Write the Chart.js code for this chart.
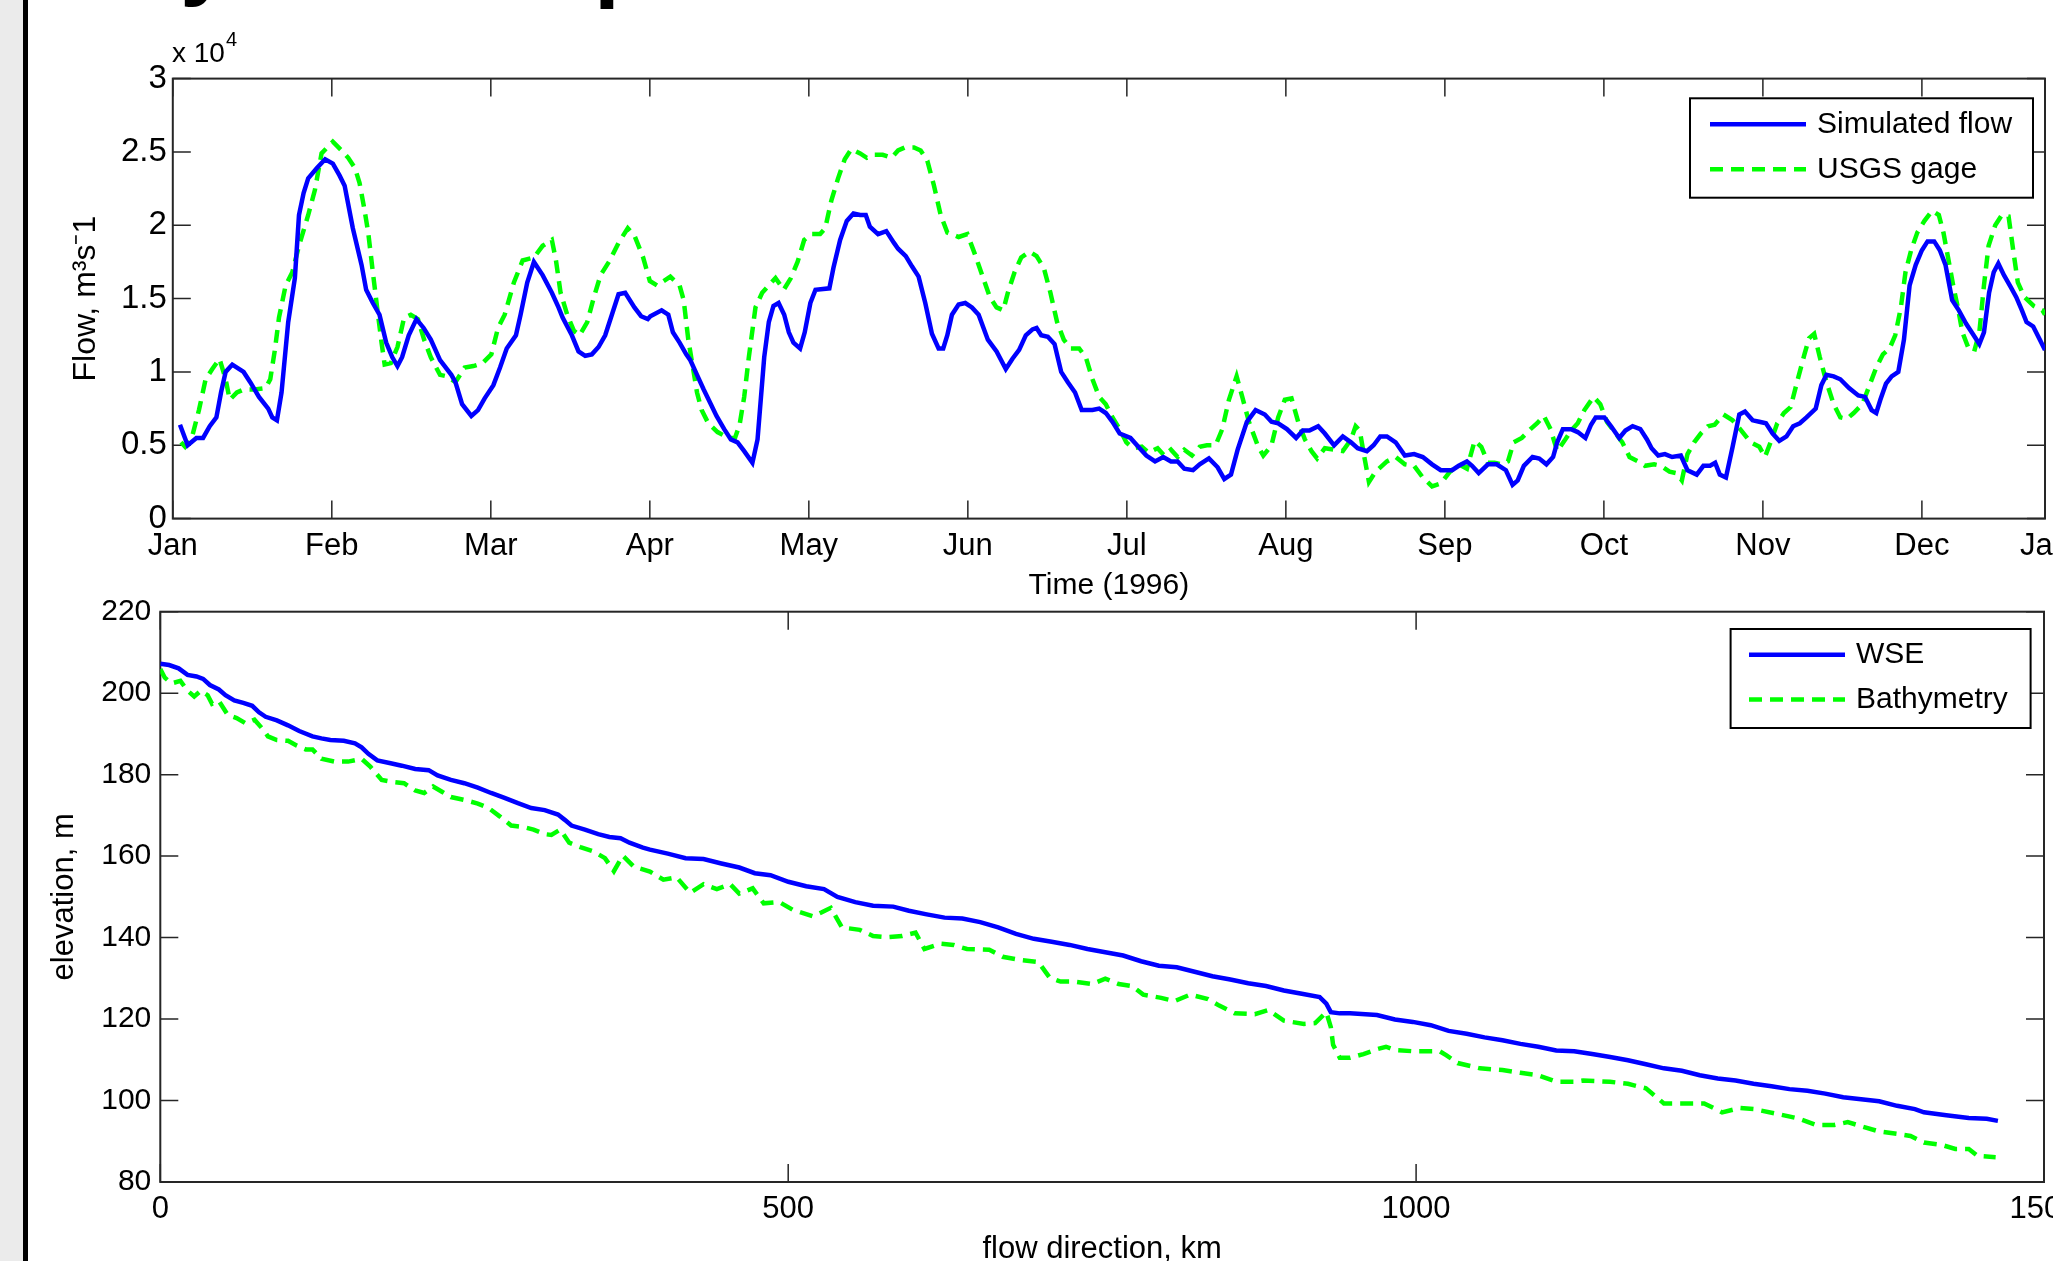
<!DOCTYPE html>
<html>
<head>
<meta charset="utf-8">
<script src="https://cdn.jsdelivr.net/npm/chart.js@4.4.1/dist/chart.umd.min.js"></script>
<style>
body { margin: 0; background: #fff; width: 2053px; height: 1261px; overflow: hidden; position: relative; }
#band { position: absolute; left: 0; top: 0; width: 23px; height: 1261px; background: #ebebeb; }
#bar { position: absolute; left: 23px; top: 0; width: 5px; height: 1261px; background: #000; }
#titleCut { position: absolute; left: 0; top: 0; }
#flowChart { position: absolute; left: 0; top: 0; }
#elevChart { position: absolute; left: 0; top: 560px; }
</style>
</head>
<body>
<div id="band"></div>
<div id="bar"></div>
<svg id="titleCut" width="700" height="14">
  <text x="180" y="-12" font-family="Liberation Sans, Arial, sans-serif" font-weight="bold" font-size="93">y</text>
  <text x="594" y="-10" font-family="Liberation Sans, Arial, sans-serif" font-weight="bold" font-size="93">p</text>
</svg>
<canvas id="flowChart" width="2053" height="610"></canvas>
<canvas id="elevChart" width="2053" height="701"></canvas>
<script>
// ---- top panel: flow, 1996 (day of year) ----
var monthTicks = [0, 31, 62, 93, 124, 155, 186, 217, 248, 279, 310, 341, 365];
var monthLabels = ['Jan', 'Feb', 'Mar', 'Apr', 'May', 'Jun', 'Jul', 'Aug', 'Sep', 'Oct', 'Nov', 'Dec', 'Jan'];

var simDays = [1.4,2.9,4.6,5.9,7.2,8.5,9.4,10.3,11.6,13.8,15.1,16.8,18.6,19.4,20.3,21.2,22.5,23.8,24.6,25.5,
  26.4,28.1,29.7,31.2,32.5,33.5,35.1,36.8,37.7,39.0,40.3,41.6,42.8,43.8,44.7,46.0,47.5,48.9,50.3,52.1,
  54.3,55.1,56.4,58.2,59.5,60.8,62.5,63.8,65.1,66.9,67.8,69.1,70.4,72.1,73.9,75.2,76.0,77.8,79.1,80.4,
  81.7,83.0,84.3,85.6,86.9,88.2,90.0,91.3,92.6,
  93.1,95.3,96.6,97.5,98.8,100.1,100.9,102.2,103.5,104.9,106.0,107.5,108.8,110.1,111.4,113.0,114.0,115.3,116.2,117.1,
  118.1,119.2,120.1,121.0,122.3,123.2,124.3,125.3,128.0,128.8,130.1,131.4,132.7,134.0,135.1,135.9,137.5,139.1,140.6,141.4,
  142.9,144.1,145.4,146.7,148.0,149.3,150.2,151.0,151.9,153.2,154.5,155.8,157.1,158.9,160.6,162.4,163.7,165.0,166.3,167.6,
  168.4,169.3,170.6,171.9,173.2,174.5,175.9,177.2,179.3,180.6,181.9,183.2,184.6,186.7,188.5,189.8,191.5,193.1,194.6,195.9,
  197.2,198.9,200.2,202.0,203.7,205.0,206.3,207.6,209.4,211.1,212.9,214.2,215.5,217.2,219.0,220.3,221.6,223.3,224.6,226.4,
  228.1,
  229.7,231.0,232.8,234.1,235.4,236.7,238.4,240.2,242.0,243.7,245.5,247.2,249.4,250.7,252.3,253.3,254.6,256.4,258.1,259.9,
  261.2,262.2,263.4,265.1,266.4,267.8,269.1,269.9,271.0,272.6,273.9,275.4,276.5,277.4,279.1,280.4,282.0,283.2,284.6,286.1,
  287.4,288.3,289.6,290.9,292.3,294.0,295.3,297.1,298.4,299.7,300.7,301.6,302.8,304.1,305.4,306.5,308.0,309.3,310.6,311.9,
  313.2,314.6,315.9,317.2,318.5,320.3,321.4,322.4,323.8,325.1,326.8,328.6,329.9,331.2,332.1,332.9,334.0,335.1,336.4,337.5,
  338.6,339.8,341.0,342.1,343.4,344.5,345.6,346.9,348.2,349.6,350.9,352.2,353.1,354.1,355.0,355.9,357.0,358.3,359.4,360.5,
  361.4,362.7,364.0,365.0];
var simFlow = [6400,5000,5500,5500,6300,6900,8600,10000,10500,10000,9300,8300,7500,6900,6700,8600,13400,16400,20700,22200,
  23200,23900,24500,24200,23400,22700,19800,17300,15600,14700,13900,12000,11000,10400,11000,12500,13600,13000,12200,10800,
  9800,9300,7800,7000,7400,8200,9100,10300,11600,12500,13900,16100,17500,16600,15400,14400,13700,12500,11400,11100,
  11200,11700,12500,13900,15300,15400,14400,13800,13600,
  13800,14200,13900,12700,12000,11200,10800,9800,8800,7800,7000,6100,5400,5200,4600,3800,5400,11000,13400,14500,
  14700,13900,12700,12000,11600,12700,14700,15600,15700,17100,19000,20300,20800,20700,20700,19900,19400,19600,18800,18400,
  17900,17200,16500,14700,12600,11600,11600,12500,13900,14600,14700,14400,13900,12200,11400,10200,10900,11500,12500,12900,
  13000,12500,12400,11900,10000,9300,8600,7400,7400,7500,7200,6600,5800,5500,4800,4300,3900,4200,3900,3900,
  3400,3300,3700,4100,3500,2700,3000,4700,6600,7400,7100,6600,6500,6100,5500,6000,6000,6300,5800,5000,
  5600,
  5200,4800,4600,5000,5600,5600,5200,4300,4400,4200,3700,3300,3300,3600,3900,3600,3100,3700,3700,3300,
  2300,2600,3600,4200,4100,3700,4200,5200,6100,6100,5900,5500,6400,6900,6900,6300,5500,6000,6300,6100,
  5400,4800,4300,4400,4200,4300,3300,3000,3600,3600,3800,3000,2800,4900,7100,7300,6700,6600,6500,5800,
  5300,5600,6300,6500,6900,7500,9100,9800,9700,9500,8900,8400,8300,7400,7200,8100,9200,9700,10000,12200,
  15900,17300,18300,18900,18900,18300,17300,14900,14200,13300,12600,11900,12700,15400,16800,17400,16600,15800,15100,14200,
  13400,13100,12200,11500];

var gageDays = [1.6,2.4,3.7,5.1,6.4,7.7,9.1,10.3,11.1,12.5,13.8,15.9,18.1,19.0,19.9,20.7,22.0,23.3,24.6,26.4,
  27.7,29.0,31.2,32.9,34.2,35.5,36.4,37.3,38.1,39.0,39.9,40.7,41.3,42.5,43.8,45.1,46.4,47.8,49.0,50.3,
  52.1,53.4,55.1,56.9,58.6,60.4,62.1,63.4,64.7,66.5,68.2,70.4,72.1,73.9,74.7,75.6,76.9,78.2,79.3,80.8,
  82.1,83.4,85.2,86.9,88.7,90.0,91.7,93.0,
  94.4,97.0,98.8,99.6,100.5,101.4,102.2,103.1,104.4,106.2,108.3,109.6,110.5,111.4,112.3,113.6,114.9,116.2,117.5,119.1,
  120.5,121.8,123.1,124.5,126.2,127.2,128.4,129.7,131.0,132.3,134.0,135.3,136.7,138.4,140.1,141.4,142.7,144.5,145.8,147.1,
  148.4,149.7,151.0,153.2,154.9,156.3,157.6,159.3,160.6,161.9,162.8,164.1,165.4,167.0,168.4,169.8,171.1,172.4,173.7,175.0,
  176.7,178.0,179.3,180.6,181.9,183.2,184.6,185.9,187.2,188.9,190.2,192.0,193.3,194.6,195.9,197.2,198.7,200.2,201.6,203.3,
  204.6,205.9,207.4,208.5,209.8,211.6,212.6,214.2,215.5,216.8,218.1,219.4,220.7,222.0,223.1,224.6,226.4,228.1,
  229.7,230.6,231.4,232.3,233.2,234.5,236.7,238.4,240.2,242.0,243.7,245.5,247.2,249.0,250.7,252.3,253.8,255.1,256.4,257.7,
  259.0,260.3,261.4,263.0,264.7,266.0,267.3,268.6,269.9,271.3,272.6,273.9,275.2,277.0,278.3,279.6,281.3,282.6,284.0,285.7,
  287.0,288.8,290.1,291.8,293.1,294.2,295.3,296.6,297.9,299.3,300.6,302.3,304.1,305.8,307.6,309.3,310.4,311.5,312.8,314.1,
  315.4,316.8,318.1,319.0,320.0,321.1,322.4,323.8,325.1,326.4,327.7,329.4,330.8,332.1,333.4,334.7,335.8,336.9,337.8,338.9,
  340.1,341.5,343.0,344.3,345.2,346.1,347.1,348.0,348.9,350.0,351.2,352.2,353.1,354.0,355.3,356.6,357.9,358.8,359.7,361.0,
  362.8,364.5,365.0];
var gageFlow = [5200,4900,5500,7400,9500,10200,10900,9500,8100,8600,8800,8800,8900,9500,11500,13700,15900,16800,18600,20700,
  22400,24900,25700,25100,24600,23900,22900,21200,19500,16800,14200,12000,10500,10600,11700,13700,13900,13600,12200,11000,
  9800,9700,9300,10300,10400,10600,11200,13000,13900,16100,17600,17800,18600,19000,17600,15400,13900,12800,12500,13400,
  15100,16600,17600,18800,19800,19300,17800,16200,
  15900,16500,15900,14900,12200,10300,8600,7400,6500,5900,5500,5500,6400,8300,11000,14400,15400,15900,16400,15600,
  16400,17500,19000,19400,19400,19800,21700,23200,24500,25200,24900,24600,24800,24800,24600,25100,25300,25300,25100,24400,
  22700,20700,19500,19200,19400,18100,16800,15100,14400,14200,15400,16800,17800,18200,17900,17100,15400,13400,12200,11600,
  11600,11000,9500,8300,7800,6900,6100,5200,4800,4900,4500,4800,4300,4700,4200,4700,4300,4900,5000,5000,
  6100,8100,9700,8300,6600,4900,4300,5000,6900,8100,8200,6600,5400,4600,4100,4800,4700,4600,
  5400,6300,6000,4200,2500,3200,3900,4200,3700,3600,2800,2200,2400,3200,3700,3400,5300,4900,3800,3800,
  3700,3900,5200,5500,6100,6500,7000,6100,4600,5300,6000,6500,7400,8300,7800,6600,5800,5200,4200,3900,
  3600,3700,3600,3200,3100,2600,4400,5200,5800,6300,6400,7100,6700,6000,5200,4900,4200,5200,6500,7200,
  7600,9500,11200,12300,12600,11000,9300,7800,6900,6800,7200,7800,9100,10300,11200,11600,12500,14400,16800,18300,
  19500,20300,21000,20700,19500,17800,15900,14400,12700,11700,11400,12700,15900,18600,20000,20700,20600,18300,16100,15100,
  14500,14200,13900];

// ---- bottom panel: longitudinal profile ----
var wseKm = [0,7,14.6,21.7,28.8,34.1,39.5,46.6,51.9,58.9,66.1,73.2,78.6,83.9,92.8,101.7,110.6,121.2,128.3,135.4,
  146.1,155.0,160.3,165.7,172.8,183.4,192.3,203.0,213.7,220.8,231.4,242.1,252.8,263.4,274.1,284.8,295.4,306.1,316.7,322.1,
  327.4,338.1,348.7,357.6,366.5,373.6,384.3,389.9,404.1,418.3,432.6,446.8,461.0,473.4,485.9,500.1,514.3,528.5,539.2,553.4,
  567.6,583.6,596.1,610.3,624.5,638.7,652.9,667.2,681.4,695.6,709.8,724.1,738.3,752.5,766.7,781.0,795.2,809.4,823.6,837.8,
  852.1,866.3,880.5,894.7,909.0,923.2,928.5,932.1,939.2,947.4,968.8,983.1,997.4,1011.7,1025.9,1040.2,1054.5,1068.8,1083.1,1097.3,
  1111.6,1125.9,1140.2,1154.5,1168.7,1183.0,1197.3,1211.6,1225.9,1240.2,1254.4,1268.7,1283.0,1297.3,1311.6,1325.8,1340.1,1354.4,1368.7,1383.0,
  1397.2,1404.4,1422.2,1440.1,1454.4,1463.3];
var wseElev = [207.2,206.9,206.1,204.5,204.1,203.5,202.0,200.9,199.5,198.2,197.6,196.9,195.3,194.2,193.3,192.1,190.7,189.4,188.9,188.5,
  188.3,187.7,186.7,185.1,183.5,182.8,182.2,181.4,181.1,179.8,178.7,177.9,176.8,175.5,174.3,173.0,171.8,171.3,170.2,168.9,
  167.5,166.5,165.4,164.7,164.4,163.3,162.1,161.6,160.6,159.5,159.3,158.2,157.2,155.8,155.3,153.7,152.6,151.9,150.0,148.7,
  147.8,147.6,146.6,145.7,144.9,144.7,143.8,142.5,140.9,139.7,139.0,138.2,137.2,136.4,135.6,134.2,133.1,132.7,131.6,130.5,
  129.7,128.8,128.1,127.0,126.2,125.4,123.8,121.7,121.4,121.4,121.0,119.9,119.3,118.5,117.1,116.4,115.5,114.8,113.9,113.2,
  112.3,112.1,111.4,110.7,109.9,108.9,107.9,107.3,106.2,105.4,104.9,104.1,103.5,102.8,102.4,101.7,100.8,100.3,99.8,98.7,
  97.9,97.1,96.4,95.7,95.5,95.0];

var bathKm = [0,3.6,8.9,16.0,21.7,27.0,32.3,37.7,41.2,46.6,53.7,60.8,67.9,75.0,82.1,85.7,92.8,101.7,108.8,115.9,
  121.2,128.3,139.0,149.6,160.3,167.4,176.3,185.2,194.1,203.0,210.1,217.2,224.3,231.4,242.1,252.8,261.6,270.5,279.4,288.3,
  297.2,306.1,311.4,318.5,325.6,334.5,345.2,354.1,361.2,368.3,377.2,389.9,400.6,411.2,421.9,432.6,443.2,453.9,461.0,471.7,
  480.5,493.0,503.7,519.7,526.8,533.9,542.8,557.0,567.6,578.3,590.8,601.4,608.5,621.0,631.6,642.3,660.1,670.7,684.9,699.2,
  708.1,716.9,727.6,741.8,752.5,763.2,773.8,782.7,797.0,807.6,820.1,834.3,843.2,855.6,871.6,882.3,894.7,910.7,919.6,928.5,
  932.1,933.9,939.2,947.4,958.1,968.8,976.0,983.1,997.4,1018.8,1024.2,1033.1,1050.9,1068.8,1083.1,1097.3,1111.6,1125.9,1133.0,1154.5,
  1168.7,1183.0,1197.3,1211.6,1229.4,1243.7,1258.0,1268.7,1286.6,1304.4,1318.7,1333.0,1343.7,1354.4,1368.7,1383.0,1393.7,1404.4,1418.7,1429.4,
  1440.1,1447.2,1461.5];
var bathElev = [205.9,203.8,202.4,203.0,200.6,199.2,200.6,199.5,197.4,198.1,194.7,193.9,192.6,193.5,191.0,189.4,188.5,188.3,187.1,186.2,
  186.2,183.9,183.2,183.2,183.9,181.9,178.7,178.2,177.9,176.1,175.5,177.1,175.8,174.5,173.8,172.9,171.8,169.7,167.5,167.2,
  166.5,165.4,165.2,166.5,163.3,162.2,161.1,159.5,156.3,160.1,157.4,156.2,154.2,154.8,151.0,153.1,151.9,153.1,150.8,152.1,
  148.4,148.7,146.8,145.2,146.2,147.3,142.5,141.9,140.4,140.1,140.4,141.2,137.2,138.5,138.2,137.2,137.0,135.3,134.5,134.0,
  130.2,129.2,129.2,128.6,129.9,128.6,128.1,126.0,125.2,124.4,126.0,124.9,123.3,121.4,121.2,122.2,119.6,118.8,119.0,121.7,
  118.0,113.7,110.5,110.5,111.4,112.6,113.2,112.4,112.1,112.1,111.1,109.2,107.9,107.5,106.8,106.2,104.6,104.6,104.9,104.6,
  104.1,103.0,99.3,99.3,99.3,97.1,98.2,97.9,96.8,95.6,94.0,94.0,94.7,93.7,92.4,91.8,91.3,89.7,89.1,88.1,
  88.1,86.4,86.1];

var FONT = "'Liberation Sans', Arial, Helvetica, sans-serif";
Chart.defaults.font.family = FONT;
Chart.defaults.color = '#000';

function toPoints(xs, ys) {
  return xs.map(function (x, i) { return { x: x, y: ys[i] }; });
}

// matlab style box: frame, inward ticks on all sides, boxed legend
var matlabAxes = {
  id: 'matlabAxes',
  beforeDatasetsDraw: function (chart, args, opts) {
    var c = chart.ctx, a = chart.chartArea, tl = 18;
    c.save();
    c.strokeStyle = '#262626';
    c.lineWidth = 1.5;
    c.beginPath();
    chart.scales.x.ticks.forEach(function (t) {
      var px = chart.scales.x.getPixelForValue(t.value);
      c.moveTo(px, a.bottom); c.lineTo(px, a.bottom - tl);
      c.moveTo(px, a.top); c.lineTo(px, a.top + tl);
    });
    chart.scales.y.ticks.forEach(function (t) {
      var py = chart.scales.y.getPixelForValue(t.value);
      c.moveTo(a.left, py); c.lineTo(a.left + tl, py);
      c.moveTo(a.right, py); c.lineTo(a.right - tl, py);
    });
    c.stroke();
    c.lineWidth = 2;
    c.strokeRect(a.left, a.top, a.right - a.left, a.bottom - a.top);
    c.restore();
  },
  afterDraw: function (chart, args, opts) {
    var c = chart.ctx;
    c.save();
    if (opts.exponent) {
      var e = opts.exponent;
      c.fillStyle = '#000';
      c.textBaseline = 'alphabetic';
      c.font = '28px ' + FONT;
      c.fillText(e.text, e.x, e.y);
      var w = c.measureText(e.text).width;
      c.font = '20px ' + FONT;
      c.fillText(e.sup, e.x + w + 1, e.y - 16);
    }
    if (opts.legend) {
      var L = opts.legend;
      c.fillStyle = '#fff';
      c.fillRect(L.x, L.y, L.w, L.h);
      c.strokeStyle = '#000';
      c.lineWidth = 2;
      c.strokeRect(L.x, L.y, L.w, L.h);
      chart.data.datasets.forEach(function (ds, i) {
        var ry = L.rows[i];
        c.strokeStyle = ds.borderColor;
        c.lineWidth = ds.borderWidth;
        c.setLineDash(ds.borderDash || []);
        c.beginPath();
        c.moveTo(L.x0, ry); c.lineTo(L.x1, ry);
        c.stroke();
        c.setLineDash([]);
        c.fillStyle = '#000';
        c.font = L.font + 'px ' + FONT;
        c.textBaseline = 'middle';
        c.fillText(ds.label, L.tx, ry);
      });
    }
    c.restore();
  }
};

var ctx1 = document.getElementById('flowChart').getContext('2d');
var flowChart = new Chart(ctx1, {
  type: 'line',
  data: {
    datasets: [{
      label: 'Simulated flow',
      data: toPoints(simDays, simFlow),
      borderColor: '#0000ff',
      borderWidth: 4.5,
      pointRadius: 0,
      tension: 0,
      fill: false
    }, {
      label: 'USGS gage',
      data: toPoints(gageDays, gageFlow),
      borderColor: '#00ff00',
      borderWidth: 4.5,
      borderDash: [13, 8],
      pointRadius: 0,
      tension: 0,
      fill: false
    }]
  },
  options: {
    responsive: false,
    animation: false,
    devicePixelRatio: 1,
    layout: { padding: { top: 78.6, right: 8, bottom: 0, left: 0 } },
    plugins: {
      legend: { display: false },
      tooltip: { enabled: false },
      matlabAxes: {
        exponent: { text: 'x 10', sup: '4', x: 172, y: 62 },
        legend: { x: 1690, y: 98.3, w: 343, h: 99.4, x0: 1710, x1: 1806, tx: 1817, rows: [124.3, 169.3], font: 30 }
      }
    },
    scales: {
      x: {
        type: 'linear', min: 0, max: 365,
        afterBuildTicks: function (scale) {
          scale.ticks = monthTicks.map(function (v) { return { value: v }; });
        },
        afterFit: function (scale) { scale.height = 91.4; scale.paddingLeft = 0; scale.paddingRight = 0; },
        grid: { display: false, drawTicks: false },
        border: { display: false },
        ticks: {
          autoSkip: false, maxRotation: 0, padding: 9,
          font: { size: 31 },
          callback: function (value) { return monthLabels[monthTicks.indexOf(value)]; }
        },
        title: { display: true, text: 'Time (1996)', font: { size: 30, lineHeight: 1 }, padding: { top: 0, bottom: 9 } }
      },
      y: {
        min: 0, max: 30000,
        afterFit: function (scale) { scale.width = 172.8; scale.paddingTop = 0; scale.paddingBottom = 0; },
        grid: { display: false, drawTicks: false },
        border: { display: false },
        ticks: {
          stepSize: 5000, padding: 6,
          font: { size: 33 },
          callback: function (value) { return String(value / 10000); }
        },
        title: { display: true, text: 'Flow, m³s⁻1', font: { size: 32, lineHeight: 1 }, padding: { top: 70, bottom: 0 } }
      }
    }
  },
  plugins: [matlabAxes]
});

var ctx2 = document.getElementById('elevChart').getContext('2d');
var elevChart = new Chart(ctx2, {
  type: 'line',
  data: {
    datasets: [{
      label: 'WSE',
      data: toPoints(wseKm, wseElev),
      borderColor: '#0000ff',
      borderWidth: 4.5,
      pointRadius: 0,
      tension: 0,
      fill: false
    }, {
      label: 'Bathymetry',
      data: toPoints(bathKm, bathElev),
      borderColor: '#00ff00',
      borderWidth: 4.5,
      borderDash: [13, 8],
      pointRadius: 0,
      tension: 0,
      fill: false
    }]
  },
  options: {
    responsive: false,
    animation: false,
    devicePixelRatio: 1,
    layout: { padding: { top: 51.7, right: 9, bottom: 0, left: 0 } },
    plugins: {
      legend: { display: false },
      tooltip: { enabled: false },
      matlabAxes: {
        legend: { x: 1730.6, y: 69, w: 300, h: 99, x0: 1749, x1: 1845, tx: 1856, rows: [94.7, 139.4], font: 30 }
      }
    },
    scales: {
      x: {
        type: 'linear', min: 0, max: 1500,
        afterFit: function (scale) { scale.height = 79; scale.paddingLeft = 0; scale.paddingRight = 0; },
        grid: { display: false, drawTicks: false },
        border: { display: false },
        ticks: {
          stepSize: 500, autoSkip: false, maxRotation: 0, padding: 9,
          font: { size: 31 },
          callback: function (value) { return String(value); }
        },
        title: { display: true, text: 'flow direction, km', font: { size: 31, lineHeight: 1 }, padding: { top: 0, bottom: -4 } }
      },
      y: {
        min: 80, max: 220,
        afterFit: function (scale) { scale.width = 160.3; scale.paddingTop = 0; scale.paddingBottom = 0; },
        grid: { display: false, drawTicks: false },
        border: { display: false },
        ticks: { stepSize: 20, padding: 9, font: { size: 30 } },
        title: { display: true, text: 'elevation, m', font: { size: 31, lineHeight: 1 }, padding: { top: 49, bottom: 0 } }
      }
    }
  },
  plugins: [matlabAxes]
});
</script>
</body>
</html>
